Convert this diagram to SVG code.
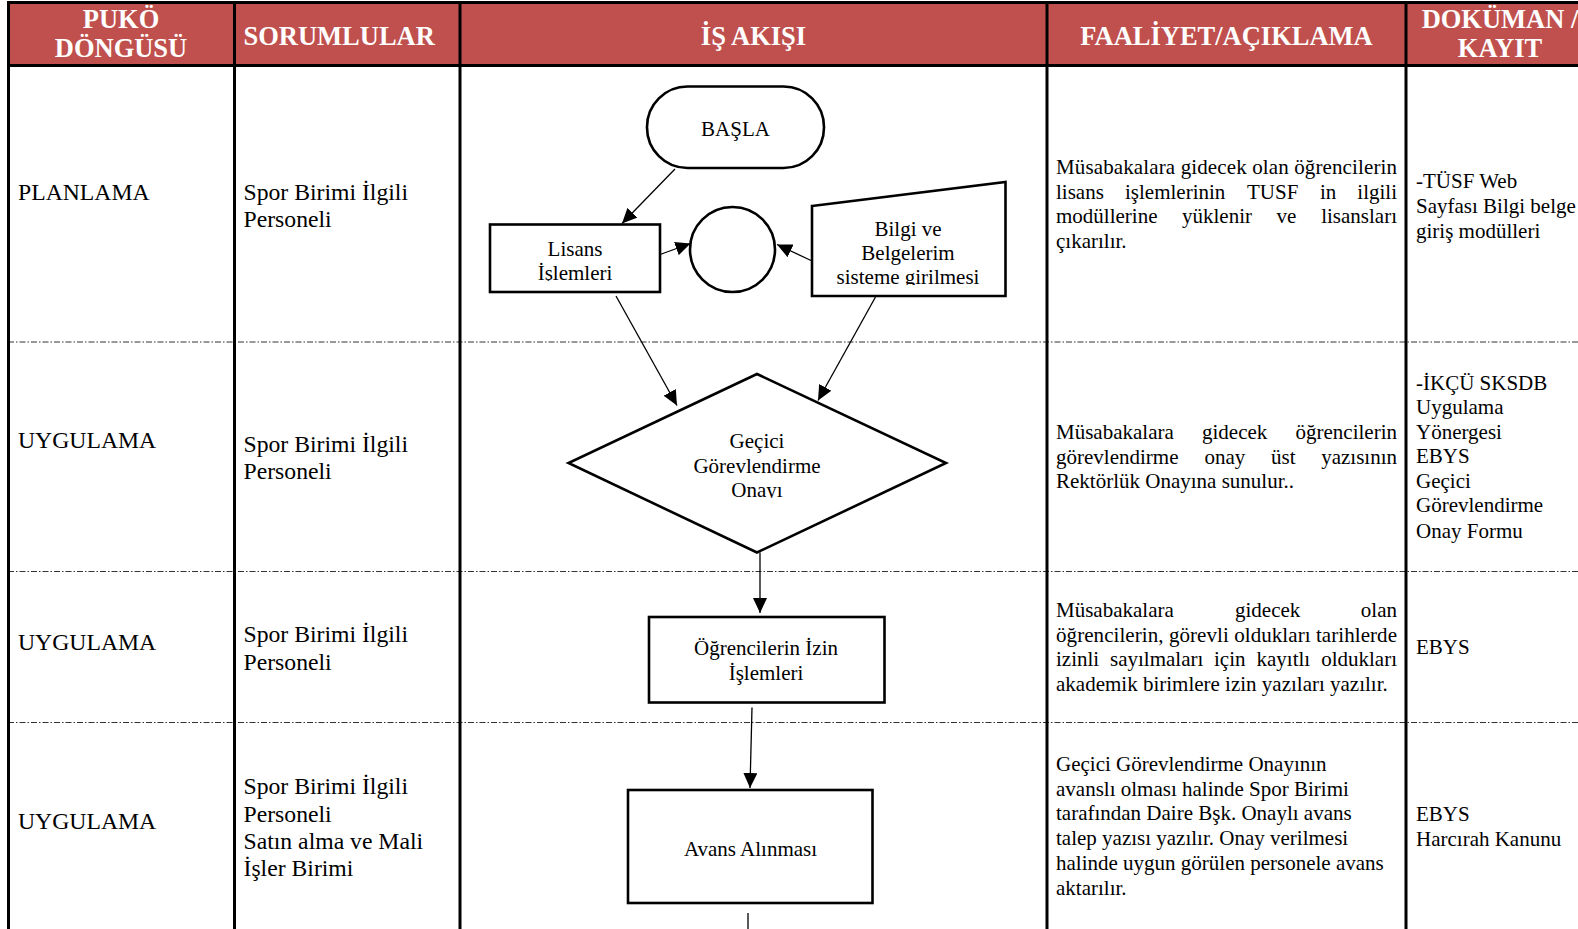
<svg xmlns="http://www.w3.org/2000/svg" width="1578" height="929" viewBox="0 0 1578 929">
<style>
.hd{font-family:"Liberation Serif","Times New Roman",serif;font-weight:bold;font-size:26.5px;fill:#fff}
.t{font-family:"Liberation Serif","Times New Roman",serif;font-size:23.7px;fill:#000}
.f{font-family:"Liberation Serif","Times New Roman",serif;font-size:21px;fill:#000}
.c{text-anchor:middle}
.grid{stroke:#000;stroke-width:3;fill:none}
.sep{stroke:#333;stroke-width:1;stroke-dasharray:6,2,1.5,2;fill:none}
.shape{fill:#fff;stroke:#000;stroke-width:2.6}
.conn{stroke:#000;stroke-width:1.3;fill:none;marker-end:url(#ah)}
</style>
<defs>
<marker id="ah" viewBox="0 0 15 14" refX="15" refY="7" markerWidth="15" markerHeight="14" markerUnits="userSpaceOnUse" orient="auto">
<path d="M0,0 L15,7 L0,14 z" fill="#000"/>
</marker>
<clipPath id="clipL"><rect x="490" y="224" width="170" height="57"/></clipPath>
<clipPath id="clipB"><rect x="812" y="180" width="194" height="105"/></clipPath>
<clipPath id="clipD"><rect x="568" y="374" width="378" height="124"/></clipPath>
</defs>
<rect x="0" y="0" width="1578" height="929" fill="#fff"/>
<g id="table">
<rect x="8.5" y="2.5" width="1580" height="63" fill="#C0504D"/>
<line class="sep" x1="8" y1="342" x2="1578" y2="342"/>
<line class="sep" x1="8" y1="571.5" x2="1578" y2="571.5"/>
<line class="sep" x1="8" y1="722.5" x2="1578" y2="722.5"/>
<line class="grid" x1="8.5" y1="1.5" x2="8.5" y2="929"/>
<line class="grid" x1="7" y1="2.5" x2="1578" y2="2.5"/>
<line class="grid" x1="7" y1="65.5" x2="1578" y2="65.5"/>
<line class="grid" x1="234.5" y1="1" x2="234.5" y2="929"/>
<line class="grid" x1="460" y1="1" x2="460" y2="929"/>
<line class="grid" x1="1047" y1="1" x2="1047" y2="929"/>
<line class="grid" x1="1406" y1="1" x2="1406" y2="929"/>
</g>
<g id="header">
<text class="hd c" transform="translate(121,28) scale(1,1.06)">PUKÖ</text>
<text class="hd c" transform="translate(121,57) scale(1,1.06)">DÖNGÜSÜ</text>
<text class="hd" transform="translate(243.5,44.5) scale(1,1.06)">SORUMLULAR</text>
<text class="hd c" transform="translate(753.5,44.5) scale(1,1.06)">İŞ AKIŞI</text>
<text class="hd c" transform="translate(1226.5,44.5) scale(1,1.06)">FAALİYET/AÇIKLAMA</text>
<text class="hd c" transform="translate(1500,28) scale(1,1.06)">DOKÜMAN /</text>
<text class="hd c" transform="translate(1500,57) scale(1,1.06)">KAYIT</text>
</g>
<g id="row1">
<text class="t" x="18" y="199.5">PLANLAMA</text>
<text class="t" x="243.5" y="199.5">Spor Birimi İlgili</text>
<text class="t" x="243.5" y="226.5">Personeli</text>
<text class="f" x="1056" y="174" textLength="341" lengthAdjust="spacing">Müsabakalara gidecek olan öğrencilerin</text>
<text class="f" y="198.5"><tspan x="1056">lisans</tspan><tspan x="1125">işlemlerinin</tspan><tspan x="1247">TUSF</tspan><tspan x="1320">in</tspan><tspan x="1397" text-anchor="end">ilgili</tspan></text>
<text class="f" y="223"><tspan x="1056">modüllerine</tspan><tspan x="1182">yüklenir</tspan><tspan x="1276.5">ve</tspan><tspan x="1397" text-anchor="end">lisansları</tspan></text>
<text class="f" x="1056" y="247.5">çıkarılır.</text>
<text class="f" x="1416" y="188">-TÜSF Web</text>
<text class="f" x="1416" y="212.5">Sayfası Bilgi belge</text>
<text class="f" x="1416" y="237.5">giriş modülleri</text>
</g>
<g id="row2">
<text class="t" x="18" y="448">UYGULAMA</text>
<text class="t" x="243.5" y="452">Spor Birimi İlgili</text>
<text class="t" x="243.5" y="479">Personeli</text>
<text class="f" y="439"><tspan x="1056">Müsabakalara</tspan><tspan x="1202">gidecek</tspan><tspan x="1397" text-anchor="end">öğrencilerin</tspan></text>
<text class="f" y="464"><tspan x="1056">görevlendirme</tspan><tspan x="1204.5">onay</tspan><tspan x="1271">üst</tspan><tspan x="1397" text-anchor="end">yazısının</tspan></text>
<text class="f" x="1056" y="488">Rektörlük Onayına sunulur..</text>
<text class="f" x="1416" y="389.5">-İKÇÜ SKSDB</text>
<text class="f" x="1416" y="413.5">Uygulama</text>
<text class="f" x="1416" y="438.5">Yönergesi</text>
<text class="f" x="1416" y="463">EBYS</text>
<text class="f" x="1416" y="488">Geçici</text>
<text class="f" x="1416" y="512">Görevlendirme</text>
<text class="f" x="1416" y="537.5">Onay Formu</text>
</g>
<g id="row3">
<text class="t" x="18" y="650">UYGULAMA</text>
<text class="t" x="243.5" y="642">Spor Birimi İlgili</text>
<text class="t" x="243.5" y="670">Personeli</text>
<text class="f" y="617"><tspan x="1056">Müsabakalara</tspan><tspan x="1235">gidecek</tspan><tspan x="1397" text-anchor="end">olan</tspan></text>
<text class="f" x="1056" y="642" textLength="341" lengthAdjust="spacing">öğrencilerin, görevli oldukları tarihlerde</text>
<text class="f" y="666"><tspan x="1056">izinli</tspan><tspan x="1110">sayılmaları</tspan><tspan x="1214">için</tspan><tspan x="1256.5">kayıtlı</tspan><tspan x="1397" text-anchor="end">oldukları</tspan></text>
<text class="f" x="1056" y="691">akademik birimlere izin yazıları yazılır.</text>
<text class="f" x="1416" y="654">EBYS</text>
</g>
<g id="row4">
<text class="t" x="18" y="829">UYGULAMA</text>
<text class="t" x="243.5" y="794">Spor Birimi İlgili</text>
<text class="t" x="243.5" y="822">Personeli</text>
<text class="t" x="243.5" y="849">Satın alma ve Mali</text>
<text class="t" x="243.5" y="876">İşler Birimi</text>
<text class="f" x="1056" y="771">Geçici Görevlendirme Onayının</text>
<text class="f" x="1056" y="796">avanslı olması halinde Spor Birimi</text>
<text class="f" x="1056" y="820">tarafından Daire Bşk. Onaylı avans</text>
<text class="f" x="1056" y="845">talep yazısı yazılır. Onay verilmesi</text>
<text class="f" x="1056" y="870">halinde uygun görülen personele avans</text>
<text class="f" x="1056" y="895">aktarılır.</text>
<text class="f" x="1416" y="821">EBYS</text>
<text class="f" x="1416" y="846">Harcırah Kanunu</text>
</g>
<g id="connectors">
<line class="conn" x1="675" y1="169" x2="622" y2="223.5"/>
<line class="conn" x1="660" y1="254.5" x2="690.5" y2="243.5"/>
<line class="conn" x1="811" y1="260.5" x2="777" y2="244.5"/>
<line class="conn" x1="616" y1="296" x2="677" y2="405.5"/>
<line class="conn" x1="875.5" y1="297" x2="818" y2="400.5"/>
<line class="conn" x1="760" y1="552.5" x2="760" y2="613"/>
<line class="conn" x1="752" y1="707.5" x2="750" y2="788"/>
<line x1="748" y1="913" x2="748" y2="929" stroke="#000" stroke-width="1.3"/>
</g>
<g id="node-basla">
<rect class="shape" x="647" y="86.5" width="177" height="81.5" rx="40.5" ry="40.5"/>
<text class="f c" x="735.5" y="136">BAŞLA</text>
</g>
<g id="node-lisans">
<rect class="shape" x="490" y="224.5" width="170" height="67.5"/>
<g clip-path="url(#clipL)">
<text class="f c" x="575" y="255.5">Lisans</text>
<text class="f c" x="575" y="280">İşlemleri</text>
</g>
</g>
<g id="node-connector">
<circle class="shape" cx="732.5" cy="249.5" r="42.5"/>
</g>
<g id="node-bilgi">
<polygon class="shape" points="812,206 1005.5,182 1005.5,296 812,296"/>
<g clip-path="url(#clipB)">
<text class="f c" x="908" y="235.5">Bilgi ve</text>
<text class="f c" x="908" y="260">Belgelerim</text>
<text class="f c" x="908" y="284">sisteme girilmesi</text>
</g>
</g>
<g id="node-onay">
<polygon class="shape" points="757,374 946,463 757,552.5 568.5,463"/>
<g clip-path="url(#clipD)">
<text class="f c" x="757" y="448">Geçici</text>
<text class="f c" x="757" y="472.5">Görevlendirme</text>
<text class="f c" x="757" y="497">Onayı</text>
</g>
</g>
<g id="node-izin">
<rect class="shape" x="649" y="617" width="235.5" height="85.5"/>
<text class="f c" x="766" y="655">Öğrencilerin İzin</text>
<text class="f c" x="766" y="680">İşlemleri</text>
</g>
<g id="node-avans">
<rect class="shape" x="628" y="790" width="244.5" height="113"/>
<text class="f c" x="750.5" y="855.5">Avans Alınması</text>
</g>
</svg>
